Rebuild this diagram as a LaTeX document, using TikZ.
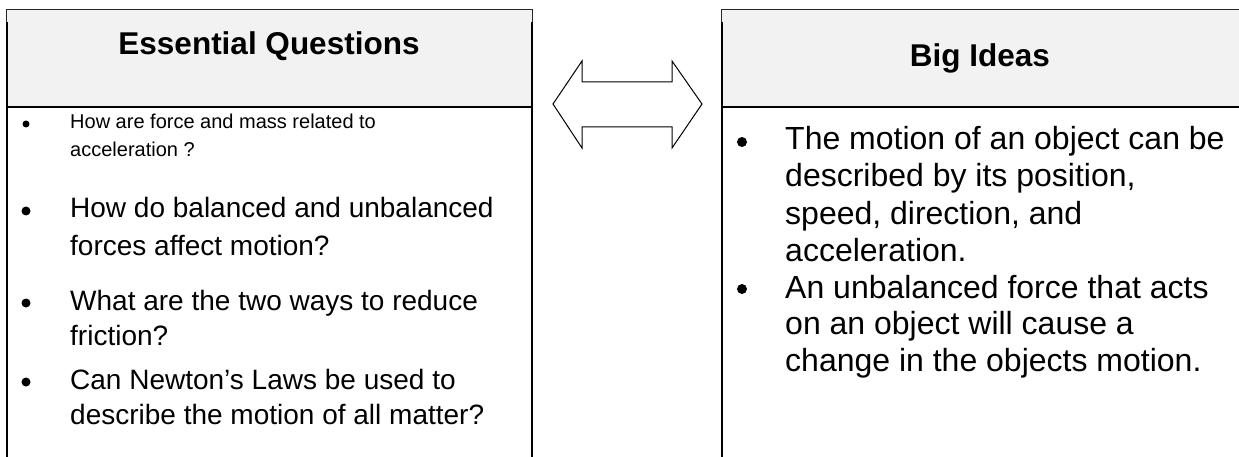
\documentclass[tikz,border=0pt]{standalone}
\usepackage{fontspec}
\setmainfont{Liberation Sans}
\definecolor{hdrgray}{HTML}{F2F2F2}
\begin{document}
\begin{tikzpicture}[x=1pt,y=-1pt,
  hfont/.style={font=\fontsize{31.5}{36}\selectfont\bfseries, inner sep=0pt, anchor=base},
  small/.style={font=\fontsize{20}{23}\selectfont, inner sep=0pt, anchor=base west},
  body/.style={font=\fontsize{28}{32}\selectfont, inner sep=0pt, anchor=base west},
  rbody/.style={font=\fontsize{32}{37}\selectfont, inner sep=0pt, anchor=base west},
  bigdot/.style={circle, fill=black, inner sep=0pt, minimum size=10pt},
  dot/.style={circle, fill=black, inner sep=0pt, minimum size=9pt},
  sdot/.style={circle, fill=black, inner sep=0pt, minimum size=7pt},
  thin/.style={line width=0.8pt, black!85},
  thick/.style={line width=2pt, black},
  bigarrow/.style={draw=black, line width=1pt, fill=white, line join=miter}
]
\useasboundingbox (0,0) rectangle (1239,457);

% left box
\fill[hdrgray] (6,9.5) rectangle (532,107);
\draw[thin] (6,22) -- (6,9.5) -- (532,9.5) -- (532,22);
\draw[thick] (7,22) -- (7,457);
\draw[thick] (532,22) -- (532,457);
\draw[thick] (6,107) -- (533,107);

% right box
\fill[hdrgray] (721,9.5) rectangle (1239,107);
\draw[thin] (721,22) -- (721,9.5) -- (1239,9.5);
\draw[thick] (722,22) -- (722,457);
\draw[thick] (721,107) -- (1239,107);

% double arrow
\draw[bigarrow] (553,104) -- (582,61) -- (582,82) -- (672,82) -- (672,61)
  -- (702,104) -- (672,148) -- (672,127) -- (582,127) -- (582,148) -- cycle;

% headers
\node[hfont] (eq) at (269,55) {Essential Questions};
\node[hfont] (bi) at (980,67) {Big Ideas};

% left list
\node[sdot] (lb1) at (26,124) {};
\node[small] (l1a) at (70,129) {How are force and mass related to};
\node[small] (l1b) at (70,157) {acceleration ?};
\node[dot] (lb2) at (26,211) {};
\node[body] (l2a) at (70,218) {How do balanced and unbalanced};
\node[body] (l2b) at (70,255) {forces affect motion?};
\node[dot] (lb3) at (26,303) {};
\node[body] (l3a) at (70,310) {What are the two ways to reduce};
\node[body] (l3b) at (70,345) {friction?};
\node[dot] (lb4) at (26,382) {};
\node[body] (l4a) at (70,389) {Can Newton’s Laws be used to};
\node[body] (l4b) at (70,424) {describe the motion of all matter?};

% right list
\node[bigdot] (rb1) at (742,142) {};
\node[rbody] (r1a) at (785,150) {The motion of an object can be};
\node[rbody] (r1b) at (785,187) {described by its position,};
\node[rbody] (r1c) at (785,224) {speed, direction, and};
\node[rbody] (r1d) at (785,261) {acceleration.};
\node[bigdot] (rb2) at (742,289) {};
\node[rbody] (r2a) at (785,298) {An unbalanced force that acts};
\node[rbody] (r2b) at (785,334) {on an object will cause a};
\node[rbody] (r2c) at (785,371) {change in the objects motion.};
\end{tikzpicture}
\end{document}
